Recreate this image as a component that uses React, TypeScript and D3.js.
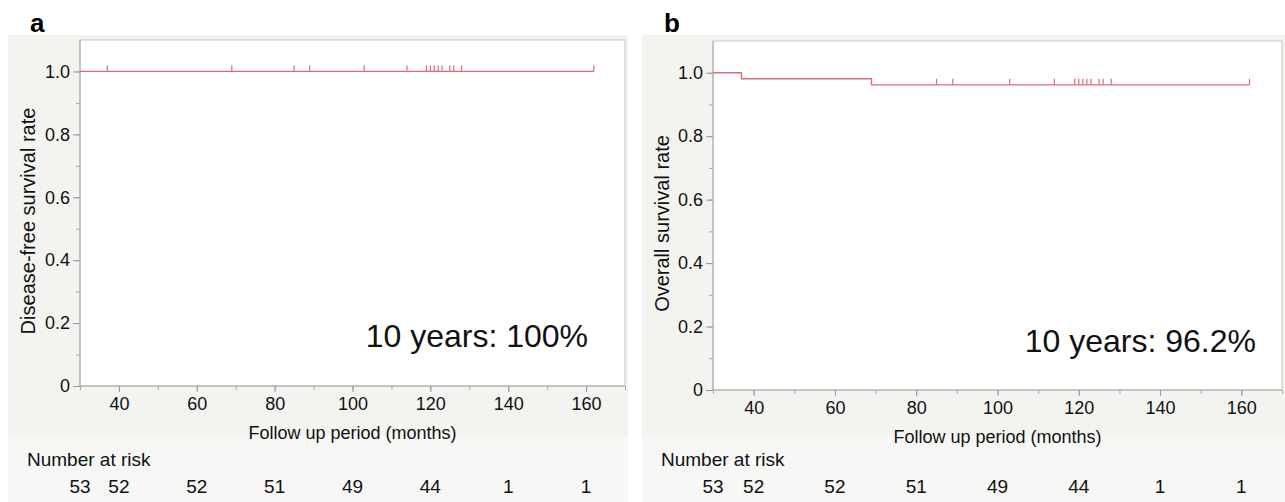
import React, { useEffect, useRef } from "react";
import * as d3 from "d3";

// follow-up months where the curve has a censor mark
const dfsCensorTimes = [37, 69, 85, 89, 103, 114, 119, 120, 121, 122, 123, 125, 126, 128, 162];
const osCensorTimes = [85, 89, 103, 114, 119, 120, 121, 122, 123, 125, 126, 128, 162];

// step curves: survival from this time on
const dfsSteps = [
  { t: 30, s: 1.0 },
  { t: 162, s: 1.0 },
];
const osSteps = [
  { t: 30, s: 1.0 },
  { t: 37, s: 0.981 },
  { t: 69, s: 0.962 },
  { t: 162, s: 0.962 },
];

const riskTimes = [30, 40, 60, 80, 100, 120, 140, 160];
const riskCounts = [53, 52, 52, 51, 49, 44, 1, 1];

const xTicks = [40, 60, 80, 100, 120, 140, 160];
const yTicks = [0, 0.2, 0.4, 0.6, 0.8, 1.0];

interface PanelProps {
  letter: string;
  yLabel: string;
  note: string;
  steps: { t: number; s: number }[];
  censors: number[];
  box: { bg0: number; bg1: number; left: number; right: number; top: number; bottom: number; noteX: number; noteY: number };
}

const FONT = "Liberation Sans, Arial, sans-serif";
const RED = "#dc6a7d";
const FS = 18;

const Panel: React.FC<PanelProps> = ({ letter, yLabel, note, steps, censors, box }) => {
  const gRef = useRef<SVGGElement | null>(null);

  useEffect(() => {
    if (!gRef.current) return;
    const g = d3.select(gRef.current);
    g.selectAll("*").remove();

    const { bg0, bg1, left, right, top, bottom } = box;
    const x = d3.scaleLinear().domain([30, 170]).range([left, right]);
    const y = d3.scaleLinear().domain([0, 1.1]).range([bottom, top]);

    g.append("rect")
      .attr("x", bg0).attr("y", 35)
      .attr("width", bg1 - bg0).attr("height", 467)
      .attr("fill", "#f3f3f0");
    g.append("rect")
      .attr("x", bg0).attr("y", 436)
      .attr("width", bg1 - bg0).attr("height", 66)
      .attr("fill", "#f7f7f5");

    g.append("rect")
      .attr("x", left).attr("y", top)
      .attr("width", right - left).attr("height", bottom - top)
      .attr("fill", "#fff")
      .attr("stroke", "#c6c6c6")
      .attr("stroke-width", 1);

    // y axis
    const yAxis = g.append("g").attr("transform", `translate(${left},0)`);
    yAxis.call(
      d3.axisLeft(y).tickValues(d3.range(0, 1.05, 0.1)).tickSize(4).tickFormat(() => "")
    );
    yAxis.call((a) => a.select(".domain").remove());
    yAxis.selectAll("line").attr("stroke", "#aaa");
    const yMajor = g.append("g").attr("transform", `translate(${left},0)`);
    yMajor.call(
      d3.axisLeft(y).tickValues(yTicks).tickSize(7).tickPadding(3)
        .tickFormat((d) => (+d === 0 ? "0" : d3.format(".1f")(+d)))
    );
    yMajor.select(".domain").remove();
    yMajor.selectAll("line").attr("stroke", "#999");
    yMajor.selectAll("text")
      .attr("font-family", FONT).attr("font-size", FS).attr("fill", "#111");

    // x axis
    const xMinor = g.append("g").attr("transform", `translate(0,${bottom})`);
    xMinor.call(d3.axisBottom(x).tickValues(d3.range(30, 171, 10)).tickSize(4).tickFormat(() => ""));
    xMinor.select(".domain").remove();
    xMinor.selectAll("line").attr("stroke", "#aaa");
    const xMajor = g.append("g").attr("transform", `translate(0,${bottom})`);
    xMajor.call(d3.axisBottom(x).tickValues(xTicks).tickSize(6).tickPadding(5));
    xMajor.select(".domain").remove();
    xMajor.selectAll("line").attr("stroke", "#999");
    xMajor.selectAll("text")
      .attr("font-family", FONT).attr("font-size", FS).attr("fill", "#111");

    g.append("line")
      .attr("x1", left).attr("x2", left).attr("y1", top).attr("y2", bottom)
      .attr("stroke", "#a8a8a8");
    g.append("line")
      .attr("x1", left).attr("x2", right).attr("y1", bottom).attr("y2", bottom)
      .attr("stroke", "#a8a8a8");

    // survival curve
    const line = d3.line<{ t: number; s: number }>()
      .curve(d3.curveStepAfter)
      .x((d) => x(d.t))
      .y((d) => y(d.s));
    g.append("path")
      .attr("d", line(steps))
      .attr("fill", "none")
      .attr("stroke", RED)
      .attr("stroke-width", 1.3);

    const survAt = (t: number) => {
      let s = steps[0].s;
      steps.forEach((p) => { if (p.t <= t) s = p.s; });
      return s;
    };
    g.selectAll(".censor")
      .data(censors)
      .enter()
      .append("line")
      .attr("class", "censor")
      .attr("x1", (d) => x(d)).attr("x2", (d) => x(d))
      .attr("y1", (d) => y(survAt(d)))
      .attr("y2", (d) => y(survAt(d)) - 6)
      .attr("stroke", RED)
      .attr("stroke-width", 1.2);

    // labels
    g.append("text")
      .attr("x", bg0 + 22).attr("y", 32)
      .attr("font-family", FONT).attr("font-weight", "bold").attr("font-size", 26)
      .text(letter);

    g.append("text")
      .attr("transform", `translate(${bg0 + 27},${(top + bottom) / 2 + 8}) rotate(-90)`)
      .attr("text-anchor", "middle")
      .attr("font-family", FONT).attr("font-size", 20).attr("fill", "#111")
      .text(yLabel);

    g.append("text")
      .attr("x", (left + right) / 2).attr("y", bottom + 53)
      .attr("text-anchor", "middle")
      .attr("font-family", FONT).attr("font-size", FS).attr("fill", "#111")
      .text("Follow up period (months)");

    g.append("text")
      .attr("x", bg0 + 19).attr("y", 466)
      .attr("font-family", FONT).attr("font-size", FS + 1).attr("fill", "#111")
      .text("Number at risk");

    g.selectAll(".risk")
      .data(riskCounts)
      .enter()
      .append("text")
      .attr("class", "risk")
      .attr("x", (_, i) => x(riskTimes[i]))
      .attr("y", 493)
      .attr("text-anchor", "middle")
      .attr("font-family", FONT).attr("font-size", FS + 1).attr("fill", "#111")
      .text((d) => d);

    g.append("text")
      .attr("x", box.noteX).attr("y", box.noteY)
      .attr("text-anchor", "end")
      .attr("font-family", FONT).attr("font-size", 32).attr("fill", "#111")
      .text(note);
  }, [letter, yLabel, note, steps, censors, box]);

  return <g ref={gRef} />;
};

const boxA = { bg0: 8, bg1: 628, left: 80, right: 625, top: 40, bottom: 386, noteX: 588, noteY: 347 };
const boxB = { bg0: 642, bg1: 1285, left: 713, right: 1282, top: 41, bottom: 390, noteX: 1256, noteY: 352 };

export default function App() {
  return (
    <svg
      width={1285}
      height={502}
      style={{ position: "absolute", left: 0, top: 0, background: "#fff" }}
    >
      <Panel
        letter="a"
        yLabel="Disease-free survival rate"
        note="10 years: 100%"
        steps={dfsSteps}
        censors={dfsCensorTimes}
        box={boxA}
      />
      <Panel
        letter="b"
        yLabel="Overall survival rate"
        note="10 years: 96.2%"
        steps={osSteps}
        censors={osCensorTimes}
        box={boxB}
      />
    </svg>
  );
}
